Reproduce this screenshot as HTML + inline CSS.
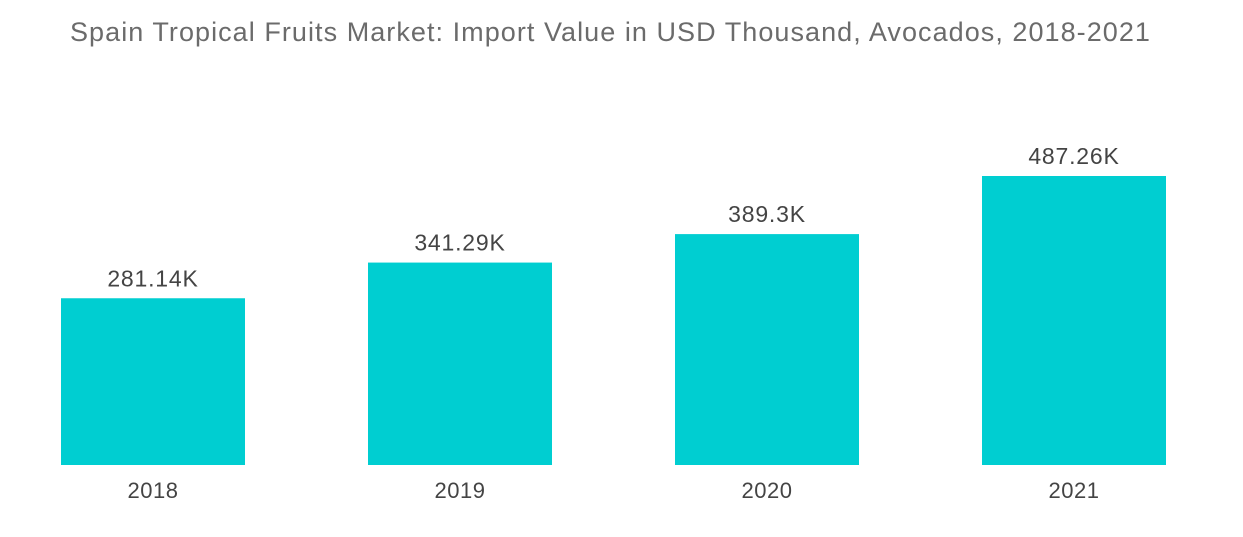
<!DOCTYPE html>
<html><head><meta charset="utf-8"><style>
body{margin:0;background:#fff;width:1243px;height:537px;overflow:hidden;font-family:"Liberation Sans",sans-serif}
#title{position:absolute;left:70px;top:17px;font-size:27px;letter-spacing:1.05px;color:#6b6b6b;white-space:nowrap}
</style></head><body>
<div id="title">Spain Tropical Fruits Market: Import Value in USD Thousand, Avocados, 2018-2021</div>
<svg id="chart" width="1243" height="537" style="position:absolute;left:0;top:0"></svg>
<script>
const categories=["2018","2019","2020","2021"];
const values=[281.14,341.29,389.3,487.26];
const valueLabels=["281.14K","341.29K","389.3K","487.26K"];
const svg=document.getElementById('chart');
const NS="http://www.w3.org/2000/svg";
const baseY=465, scale=289/487.26, x0=61, step=307, bw=184;
function yPos(v){return baseY-v*scale;}
function xPos(i){return x0+i*step;}
categories.forEach((c,i)=>{
  const r=document.createElementNS(NS,'rect');
  
  
  r.setAttribute('x',xPos(i));r.setAttribute('y',yPos(values[i]));
  r.setAttribute('width',bw);r.setAttribute('height',baseY-yPos(values[i]));
  r.setAttribute('fill','#00ced1');svg.appendChild(r);
  const t=document.createElementNS(NS,'text');
  
  
  t.setAttribute('x',xPos(i)+bw/2);t.setAttribute('y',yPos(values[i])-12);
  t.setAttribute('text-anchor','middle');t.setAttribute('font-size','23');t.setAttribute('letter-spacing','0.8');t.setAttribute('fill','#444');
  t.textContent=valueLabels[i];svg.appendChild(t);
  const a=document.createElementNS(NS,'text');
  
  
  a.setAttribute('x',xPos(i)+bw/2);a.setAttribute('y',498);
  a.setAttribute('text-anchor','middle');a.setAttribute('font-size','22');a.setAttribute('letter-spacing','0.5');a.setAttribute('fill','#444');
  a.textContent=c;svg.appendChild(a);
});
</script>
</body></html>
